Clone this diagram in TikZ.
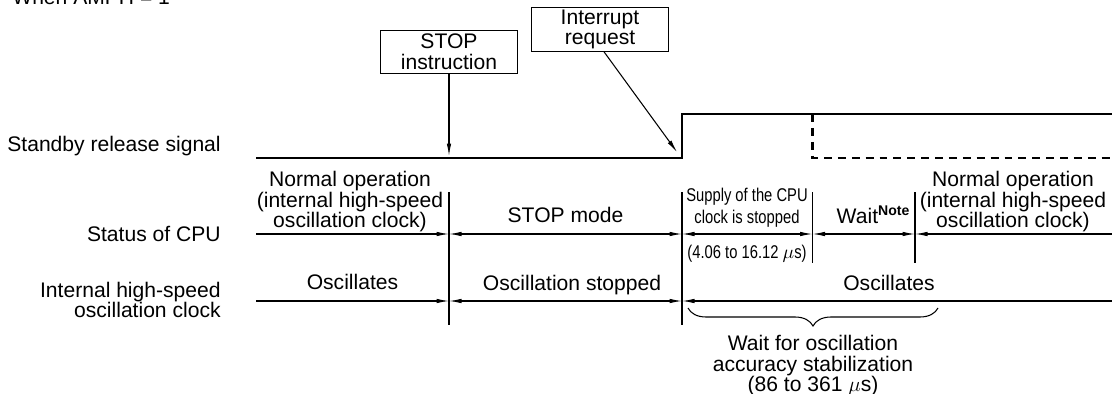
\documentclass[tikz,border=0pt]{standalone}
\usepackage{fontspec}
\setmainfont{Liberation Sans}
\newfontfamily\narrowfont[FakeStretch=0.8]{Liberation Sans}
\usetikzlibrary{arrows.meta,decorations.pathreplacing}
\definecolor{ink}{rgb}{0,0,0}

\tikzset{
  >={Latex[length=0.25cm,width=0.09cm]},
  txt/.style={font=\fontsize{12}{11.7}\selectfont,text=ink,align=center,inner sep=0pt},
  small/.style={font=\narrowfont\fontsize{10.5}{12.5}\selectfont,text=ink,align=center,inner sep=0pt},
  callout/.style={txt,draw=ink,line width=0.6pt,minimum width=2.74cm,minimum height=0.87cm},
  rule/.style={draw=ink,line width=0.6pt},
  sig/.style={draw=ink,line width=1.7pt},
  sigdash/.style={sig,dash pattern=on 4.5pt off 3.4pt},
}

\begin{document}
\begin{tikzpicture}
\useasboundingbox (0,0) rectangle (22.24,-7.88);
\node[anchor=base west,txt] (when) at (0.24,-0.08) {When AMPH = 1};
% callouts
\node[callout] (stopbox) at (8.98,-1.04) {STOP\\instruction};
\node[callout] (intbox) at (12.0,-0.59) {Interrupt\\request};
% row labels
\node[anchor=west,txt] (lblsig) at (0.14,-2.92) {Standby release signal};
\node[anchor=east,txt] (lblcpu) at (4.42,-4.68) {Status of CPU};
\node[anchor=east,txt,align=right] (lblclk) at (4.42,-6.0) {Internal high-speed\\oscillation clock};
% standby release signal
\coordinate (s0) at (5.12,-3.16);
\coordinate (s1) at (13.64,-3.16);
\coordinate (s2) at (13.64,-2.28);
\coordinate (s3) at (22.3,-2.28);
\coordinate (d0) at (16.25,-2.28);
\coordinate (d1) at (16.25,-3.16);
\coordinate (d2) at (22.3,-3.16);
\draw[sig] (s0) -- (s1) -- (s2) -- (s3);
\draw[sigdash] (d0) -- (d1) -- (d2);
\coordinate (stophit) at (8.98,-3.12);
\coordinate (inthit) at (13.54,-3.04);
\draw[rule,->] (stopbox.south) -- (stophit);
\draw[rule,->] ([xshift=0.08cm]intbox.south) -- (inthit);
% dividers
\foreach \x/\b in {8.98/-6.5,13.64/-6.5,16.25/-5.26,18.3/-5.26}
  \draw[rule] (\x,-3.84) -- (\x,\b);
% status of CPU
\coordinate (c0) at (5.12,-4.68);
\coordinate (c1) at (8.98,-4.68);
\coordinate (c2) at (13.64,-4.68);
\coordinate (c3) at (16.25,-4.68);
\coordinate (c4) at (18.3,-4.68);
\coordinate (c5) at (22.3,-4.68);
\draw[rule,->] (c0) -- (c1);
\draw[rule,<->] (c1) -- (c2);
\draw[rule,<->] (c2) -- (c3);
\draw[rule,<->] (c3) -- (c4);
\draw[rule,<-] (c4) -- (c5);
\node[anchor=north,txt] (normL) at (7.0,-3.42) {Normal operation\\(internal high-speed\\oscillation clock)};
\node[anchor=base,txt] (stopmode) at (11.31,-4.44) {STOP mode};
\node[anchor=north,small] (supply) at (14.94,-3.76) {Supply of the CPU\\clock is stopped};
\node[anchor=base,small] (range) at (14.94,-5.17) {(4.06 to 16.12 $\mu$s)};
\node[anchor=base,txt] (wait) at (17.47,-4.46) {Wait\textsuperscript{\textbf{Note}}};
\node[anchor=north,txt] (normR) at (20.26,-3.42) {Normal operation\\(internal high-speed\\oscillation clock)};
% internal high-speed oscillation clock
\coordinate (k0) at (5.12,-6.02);
\coordinate (k1) at (8.98,-6.02);
\coordinate (k2) at (13.64,-6.02);
\coordinate (k3) at (22.3,-6.02);
\draw[rule,->] (k0) -- (k1);
\draw[rule,<->] (k1) -- (k2);
\draw[rule,<-] (k2) -- (k3);
\node[anchor=base,txt] (oscL) at (7.05,-5.78) {Oscillates};
\node[anchor=base,txt] (oscstop) at (11.44,-5.8) {Oscillation stopped};
\node[anchor=base,txt] (oscR) at (17.78,-5.8) {Oscillates};
% stabilization wait
\coordinate (b0) at (13.76,-6.16);
\coordinate (b1) at (18.76,-6.16);
\draw[rule,decorate,decoration={brace,mirror,amplitude=0.36cm}] (b0) -- (b1);
\node[anchor=north,txt] (waitfor) at (16.26,-6.7) {Wait for oscillation\\accuracy stabilization\\(86 to 361 $\mu$s)};
\end{tikzpicture}
\end{document}
